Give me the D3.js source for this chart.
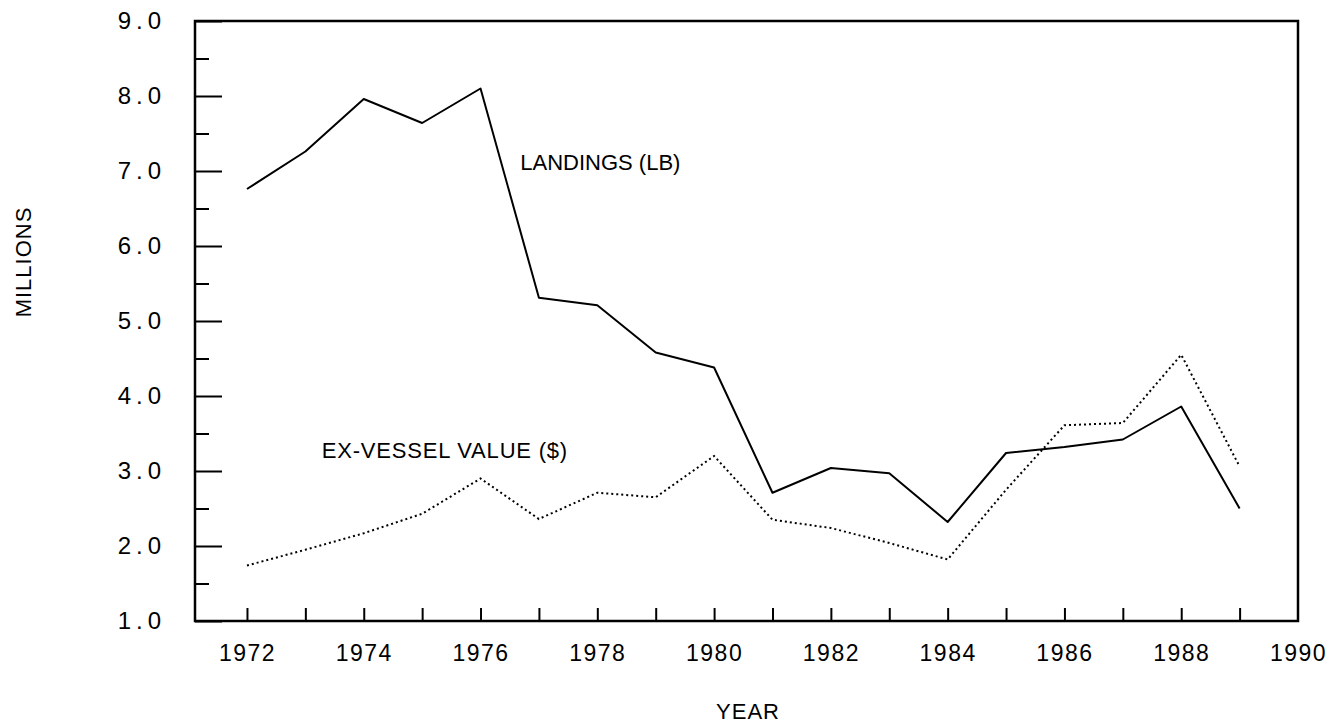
<!DOCTYPE html>
<html>
<head>
<meta charset="utf-8">
<script src="https://cdn.jsdelivr.net/npm/d3@7"></script>
<style>
  body { margin: 0; background: #fff; }
  svg text { font-family: "Liberation Sans", Arial, sans-serif; fill: #000; }
</style>
</head>
<body>
<svg id="chart" width="1330" height="727"></svg>
<script>
// years and the two series (millions)
var years = [1972, 1973, 1974, 1975, 1976, 1977, 1978, 1979, 1980,
             1981, 1982, 1983, 1984, 1985, 1986, 1987, 1988, 1989];
var landings = [6.76, 7.26, 7.96, 7.64, 8.10, 5.31, 5.21, 4.58, 4.38,
                2.71, 3.04, 2.97, 2.32, 3.24, 3.32, 3.42, 3.86, 2.50];
var exVessel = [1.74, 1.95, 2.17, 2.43, 2.90, 2.36, 2.71, 2.65, 3.20,
                2.35, 2.24, 2.04, 1.82, 2.75, 3.61, 3.64, 4.55, 3.06];
var yearLabels = [1972, 1974, 1976, 1978, 1980, 1982, 1984, 1986, 1988, 1990];
var yMajor = [1, 2, 3, 4, 5, 6, 7, 8, 9];
var yMinor = [1.5, 2.5, 3.5, 4.5, 5.5, 6.5, 7.5, 8.5];
var xStart = 1971.11, xEnd = 1990;

var margins = { top: 21, left: 195, right: 32, bottom: 106 };
var svg = d3.select("#chart");
var width = 1330 - margins.left - margins.right,
    height = 727 - margins.top - margins.bottom;

var g = svg.append("g")
    .attr("transform", "translate(" + margins.left + "," + margins.top + ")");

var x = d3.scaleLinear().domain([xStart, xEnd]).range([0, width]);
var y = d3.scaleLinear().domain([1, 9]).range([height, 0]);

// minor y ticks (no labels)
g.append("g")
    .attr("class", "y minor")
    .call(d3.axisLeft(y).tickValues(yMinor).tickSizeInner(-14).tickSizeOuter(0).tickFormat(""));

// major y ticks with labels
g.append("g")
    .attr("class", "y major")
    .call(d3.axisLeft(y).tickValues(yMajor).tickSizeInner(-27).tickSizeOuter(0)
        .tickPadding(29).tickFormat(d3.format(".1f")));

// x ticks every year, labels on even years
g.append("g")
    .attr("class", "x ticks")
    .attr("transform", "translate(0," + height + ")")
    .call(d3.axisBottom(x).tickValues(years).tickSizeInner(-13).tickSizeOuter(0).tickFormat(""));

g.append("g")
    .attr("class", "x labels")
    .attr("transform", "translate(0," + height + ")")
    .call(d3.axisBottom(x).tickValues(yearLabels).tickSize(0).tickPadding(24)
        .tickFormat(d3.format("d")));

g.selectAll(".domain").remove();
g.selectAll(".tick line").attr("stroke", "#000").attr("stroke-width", 2);
g.selectAll(".y.major .tick text")
    .style("font-size", "24px").style("letter-spacing", "5px");
g.selectAll(".x.labels .tick text")
    .style("font-size", "23px").style("letter-spacing", "1.5px");

// frame
g.append("rect")
    .attr("x", 0).attr("y", 0)
    .attr("width", width).attr("height", height)
    .attr("fill", "none").attr("stroke", "#000").attr("stroke-width", 2.5);

var line = d3.line()
    .x(function(d, i) { return x(years[i]); })
    .y(function(d) { return y(d); });

g.append("path")
    .datum(landings)
    .attr("fill", "none")
    .attr("stroke", "#000")
    .attr("stroke-width", 2)
    .attr("stroke-linejoin", "round")
    .attr("d", line);

g.append("path")
    .datum(exVessel)
    .attr("fill", "none")
    .attr("stroke", "#000")
    .attr("stroke-width", 2)
    .attr("stroke-dasharray", "2,3")
    .attr("d", line);

// series labels
g.append("text")
    .attr("x", x(1976.68)).attr("y", y(7.01))
    .style("font-size", "22px")
    .text("LANDINGS (LB)");

g.append("text")
    .attr("x", x(1973.28)).attr("y", y(3.17))
    .style("font-size", "22px").style("letter-spacing", "0.8px")
    .text("EX-VESSEL VALUE ($)");

// axis titles
svg.append("text")
    .attr("transform", "translate(31,262) rotate(-90)")
    .attr("text-anchor", "middle")
    .style("font-size", "22px").style("letter-spacing", "1px")
    .text("MILLIONS");

svg.append("text")
    .attr("x", 748).attr("y", 719)
    .attr("text-anchor", "middle")
    .style("font-size", "22px").style("letter-spacing", "1px")
    .text("YEAR");
</script>
</body>
</html>
